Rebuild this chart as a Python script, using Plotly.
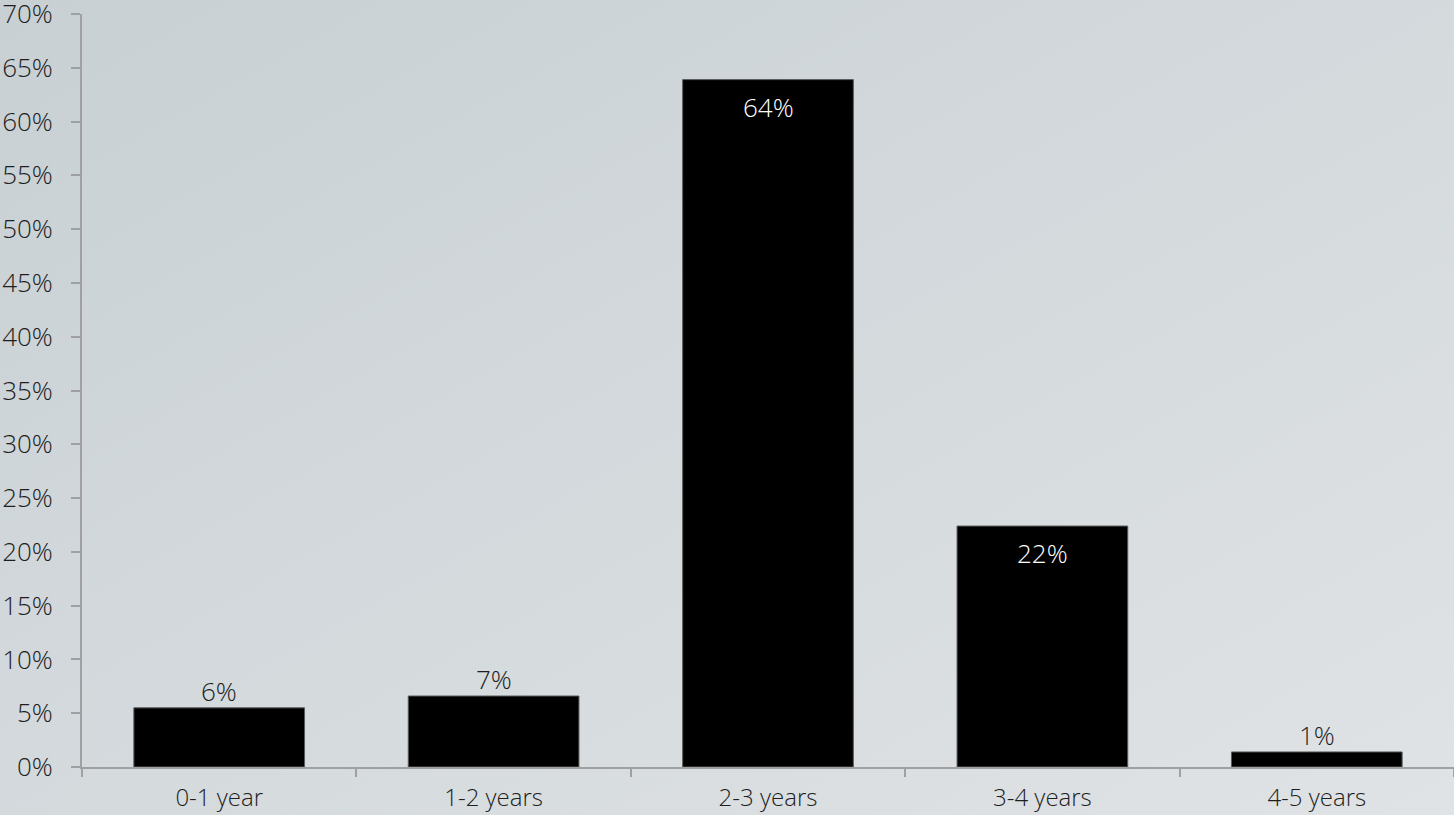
import base64
import plotly.graph_objects as go

categories = ["0-1 year", "1-2 years", "2-3 years", "3-4 years", "4-5 years"]
values = [5.5, 6.6, 63.9, 22.4, 1.4]
labels = ["6%", "7%", "64%", "22%", "1%"]
y_ticks = list(range(0, 75, 5))

W, H = 1454, 815
L, R, T, B = 82, 0, 14, 48

FONT = dict(family="Open Sans", size=26, color="#1e1e1e", weight=300)
XFONT = dict(family="Open Sans", size=24, color="#1e1e1e", weight=300)

svg = (
    '<svg xmlns="http://www.w3.org/2000/svg" width="1454" height="815" preserveAspectRatio="none">'
    '<defs><linearGradient id="g" x1="0" y1="0" x2="1" y2="1">'
    '<stop offset="0" stop-color="#c8d0d4"/><stop offset="1" stop-color="#e0e3e5"/>'
    '</linearGradient></defs><rect width="1454" height="815" fill="url(#g)"/></svg>'
)
src = "data:image/svg+xml;base64," + base64.b64encode(svg.encode()).decode()

fig = go.Figure()
fig.add_trace(go.Bar(
    x=categories, y=values,
    marker=dict(color="#000000", line=dict(color="#5a5a5a", width=1)),
    hoverinfo="skip",
))

annotations = []
for c, v, t in zip(categories, values, labels):
    inside = v > 10
    annotations.append(dict(
        x=c, y=v, xref="x", yref="y", text=t, showarrow=False,
        yanchor="top" if inside else "bottom",
        yshift=-7 if inside else -3,
        font=dict(family="Open Sans", size=26, weight=300,
                  color="#ffffff" if inside else "#1e1e1e"),
    ))

fig.update_layout(
    width=W, height=H, autosize=False,
    margin=dict(l=0, r=0, t=0, b=0, pad=0),
    paper_bgcolor="#d3d9dc",
    plot_bgcolor="rgba(0,0,0,0)",
    font=FONT,
    showlegend=False,
    bargap=0.378,
    images=[dict(source=src, xref="paper", yref="paper", x=0, y=1,
                 sizex=1, sizey=1, xanchor="left", yanchor="top",
                 sizing="stretch", layer="below")],
    xaxis=dict(
        domain=[L / W, 1 - R / W], automargin=False,
        showgrid=False, zeroline=False,
        showline=True, linecolor="#a0a0a0", linewidth=2,
        ticks="outside", ticklen=8, tickcolor="#a0a0a0", tickwidth=2,
        tickson="boundaries", ticklabelstandoff=8,
        ticklabeloverflow="allow",
        tickfont=XFONT, fixedrange=True,
    ),
    yaxis=dict(
        domain=[B / H, 1 - T / H], automargin=False,
        range=[0, 70], tickvals=y_ticks,
        ticktext=[f"{v}%" for v in y_ticks],
        showgrid=False, zeroline=False,
        showline=True, linecolor="#a0a0a0", linewidth=2,
        ticks="outside", ticklen=9, tickcolor="#a0a0a0", tickwidth=2,
        ticklabelstandoff=13, ticklabeloverflow="allow",
        tickfont=FONT, fixedrange=True,
    ),
    annotations=annotations,
)

fig.write_html("out.html", config={"responsive": False})
